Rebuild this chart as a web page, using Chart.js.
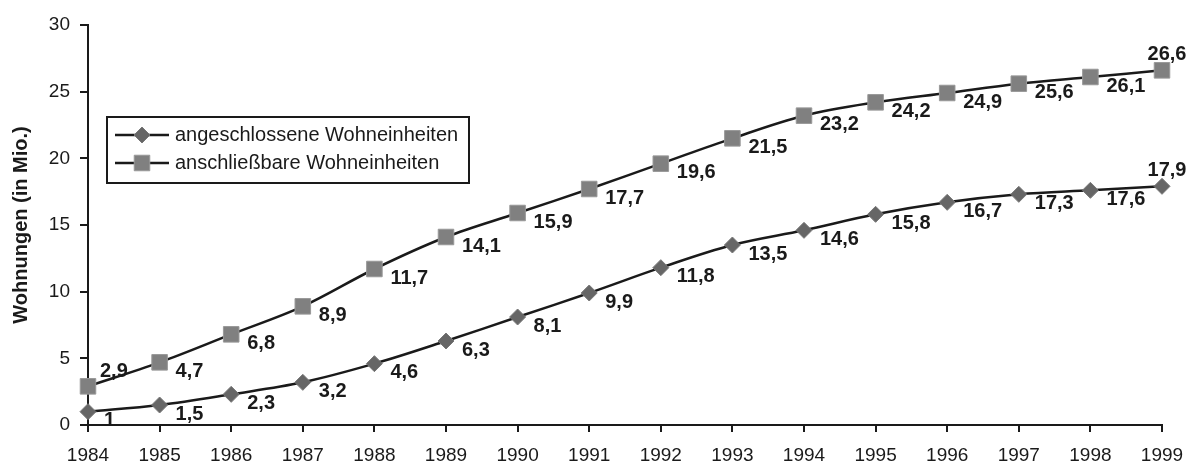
<!DOCTYPE html>
<html lang="de">

<head>
    <meta charset="UTF-8">
    <title>Wohnungen</title>
    <script src="https://cdn.jsdelivr.net/npm/chart.js"></script>
    <style>
        body { margin: 0; background: #fff; }
        #wrap { width: 1190px; height: 463px; }
    </style>
</head>

<body>
    <div id="wrap"><canvas id="myChart"></canvas></div>
    <script>
        // data
        const years = ['1984', '1985', '1986', '1987', '1988', '1989', '1990', '1991',
            '1992', '1993', '1994', '1995', '1996', '1997', '1998', '1999'];
        const angeschlossen = [1, 1.5, 2.3, 3.2, 4.6, 6.3, 8.1, 9.9, 11.8, 13.5, 14.6, 15.8, 16.7, 17.3, 17.6, 17.9];
        const anschliessbar = [2.9, 4.7, 6.8, 8.9, 11.7, 14.1, 15.9, 17.7, 19.6, 21.5, 23.2, 24.2, 24.9, 25.6, 26.1, 26.6];
        const seriesNames = ['angeschlossene Wohneinheiten', 'anschließbare Wohneinheiten'];
        const yTicks = [0, 5, 10, 15, 20, 25, 30];

        const FONT = 'Arial, "Liberation Sans", sans-serif';

        // value labels next to the points
        const valueLabels = {
            id: 'valueLabels',
            afterDatasetsDraw(chart) {
                const ctx = chart.ctx;
                ctx.save();
                ctx.font = 'bold 20px ' + FONT;
                ctx.fillStyle = '#1a1a1a';
                ctx.textBaseline = 'middle';
                chart.data.datasets.forEach((ds, di) => {
                    const meta = chart.getDatasetMeta(di);
                    meta.data.forEach((pt, i) => {
                        const txt = String(ds.data[i]).replace('.', ',');
                        let x = pt.x + 16, y = pt.y + 9;
                        ctx.textAlign = 'left';
                        if (i === ds.data.length - 1) {
                            ctx.textAlign = 'center';
                            x = pt.x + 5; y = pt.y - 16;
                        } else if (di === 1 && i === 0) {
                            x = pt.x + 12; y = pt.y - 15;
                        }
                        ctx.fillText(txt, x, y);
                    });
                });
                ctx.restore();
            }
        };

        // boxed legend inside the plot
        const boxLegend = {
            id: 'boxLegend',
            afterDraw(chart) {
                const ctx = chart.ctx;
                const x0 = 107, y0 = 117, w = 362, h = 66;
                ctx.save();
                ctx.fillStyle = '#fff';
                ctx.fillRect(x0, y0, w, h);
                ctx.strokeStyle = '#1a1a1a';
                ctx.lineWidth = 2;
                ctx.strokeRect(x0, y0, w, h);
                ctx.font = '20px ' + FONT;
                ctx.textBaseline = 'middle';
                chart.data.datasets.forEach((ds, di) => {
                    const cy = y0 + 18 + di * 28;
                    const mx = x0 + 35;
                    ctx.strokeStyle = ds.borderColor;
                    ctx.lineWidth = ds.borderWidth;
                    ctx.beginPath();
                    ctx.moveTo(x0 + 8, cy);
                    ctx.lineTo(x0 + 62, cy);
                    ctx.stroke();
                    ctx.fillStyle = ds.pointBackgroundColor;
                    ctx.strokeStyle = ds.pointBorderColor;
                    ctx.lineWidth = 1;
                    ctx.beginPath();
                    if (ds.pointStyle === 'rect') {
                        const s = ds.pointRadius * Math.SQRT1_2;
                        ctx.rect(mx - s, cy - s, 2 * s, 2 * s);
                    } else {
                        const r = ds.pointRadius;
                        ctx.moveTo(mx, cy - r);
                        ctx.lineTo(mx + r, cy);
                        ctx.lineTo(mx, cy + r);
                        ctx.lineTo(mx - r, cy);
                        ctx.closePath();
                    }
                    ctx.fill();
                    ctx.stroke();
                    ctx.fillStyle = '#1a1a1a';
                    ctx.textAlign = 'left';
                    ctx.fillText(seriesNames[di], x0 + 68, cy);
                });
                ctx.restore();
            }
        };

        const data = {
            labels: years,
            datasets: [
                {
                    label: seriesNames[0],
                    data: angeschlossen,
                    borderColor: '#1a1a1a',
                    borderWidth: 2.5,
                    tension: 0.35,
                    pointStyle: 'rectRot',
                    pointRadius: 8,
                    pointBackgroundColor: '#666666',
                    pointBorderColor: '#777777',
                    pointBorderWidth: 1
                },
                {
                    label: seriesNames[1],
                    data: anschliessbar,
                    borderColor: '#1a1a1a',
                    borderWidth: 2.5,
                    tension: 0.35,
                    pointStyle: 'rect',
                    pointRadius: 11,
                    pointBackgroundColor: '#808080',
                    pointBorderColor: '#999999',
                    pointBorderWidth: 1
                }
            ]
        };

        const config = {
            type: 'line',
            data,
            plugins: [valueLabels, boxLegend],
            options: {
                responsive: true,
                maintainAspectRatio: false,
                animation: false,
                layout: {
                    padding: { top: 25, right: 28, left: 0, bottom: 0 }
                },
                clip: false,
                scales: {
                    x: {
                        offset: false,
                        grid: {
                            drawOnChartArea: false,
                            color: '#1a1a1a',
                            lineWidth: 2,
                            tickLength: 7
                        },
                        border: { color: '#1a1a1a', width: 2 },
                        ticks: {
                            color: '#1a1a1a',
                            font: { family: FONT, size: 19 },
                            padding: 12,
                            maxRotation: 0,
                            autoSkip: false
                        },
                        afterFit(scale) {
                            scale.height = 38;
                            scale.paddingLeft = 0;
                            scale.paddingRight = 0;
                        }
                    },
                    y: {
                        min: 0,
                        max: 30,
                        afterBuildTicks(scale) {
                            scale.ticks = yTicks.map(v => ({ value: v }));
                        },
                        grid: {
                            drawOnChartArea: false,
                            color: '#1a1a1a',
                            lineWidth: 2,
                            tickLength: 8
                        },
                        border: { color: '#1a1a1a', width: 2 },
                        ticks: {
                            color: '#1a1a1a',
                            font: { family: FONT, size: 19 },
                            padding: 10
                        },
                        title: {
                            display: true,
                            text: 'Wohnungen (in Mio.)',
                            color: '#1a1a1a',
                            font: { family: FONT, size: 20, weight: 'bold' },
                            padding: { top: 9, bottom: 0 }
                        },
                        afterFit(scale) { scale.width = 88; }
                    }
                },
                plugins: {
                    legend: { display: false },
                    tooltip: { enabled: false }
                }
            }
        };

        const myChart = new Chart(document.getElementById('myChart'), config);
    </script>
</body>

</html>
